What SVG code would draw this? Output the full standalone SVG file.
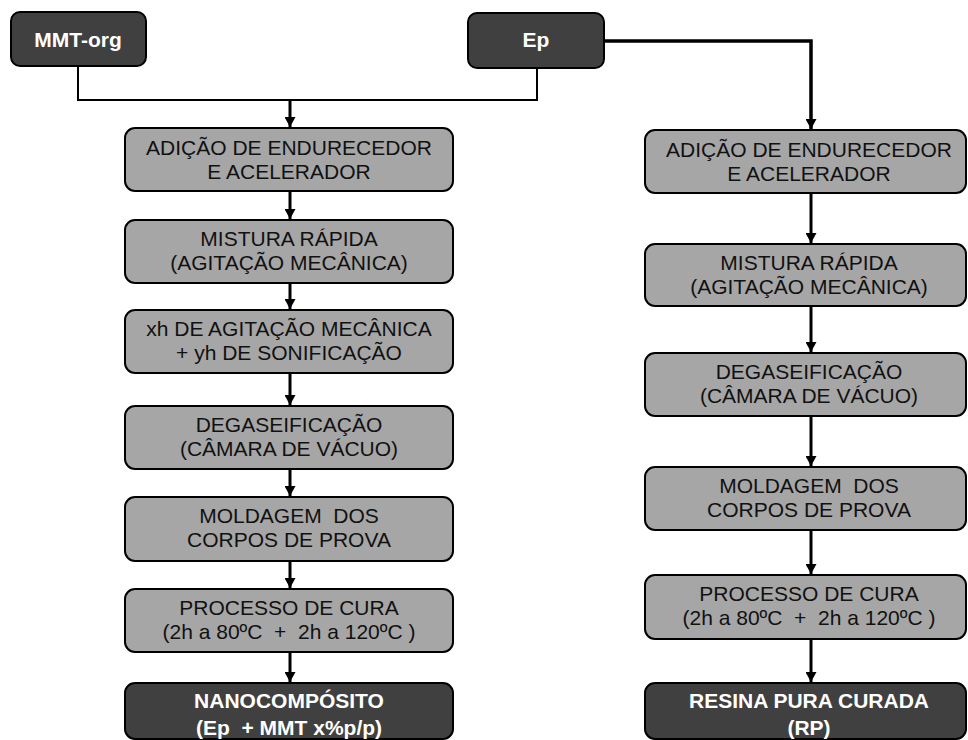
<svg xmlns="http://www.w3.org/2000/svg" width="968" height="740" viewBox="0 0 968 740">
  <defs>
    <marker id="head" markerUnits="userSpaceOnUse" markerWidth="12" markerHeight="11" refX="10" refY="5.5" orient="auto">
      <path d="M0,0 L10,5.5 L0,11 Z" fill="#000"/>
    </marker>
    <style>
      .step rect { fill: #a6a6a6; stroke: #000; stroke-width: 2; }
      .term rect { fill: #404040; stroke: #000; stroke-width: 2; }
      .step text { font-family: "Liberation Sans", Arial, sans-serif; font-size: 21px; fill: #111; text-anchor: middle; white-space: pre; }
      .term text { font-family: "Liberation Sans", Arial, sans-serif; font-size: 21px; font-weight: bold; fill: #fff; text-anchor: middle; white-space: pre; }
      .link { fill: none; stroke: #000; stroke-width: 2; }
      .flow { fill: none; stroke: #000; stroke-width: 3; marker-end: url(#head); }
    </style>
  </defs>

  <rect width="968" height="740" fill="#fff"/>

  <!-- connectors -->
  <g id="connectors">
    <path class="link" d="M78,66 V100 H537 V68"/>
    <path class="flow" d="M290,100 V127"/>
    <path class="flow" style="stroke-width:3.5" d="M604,41 H811 V129"/>
    <!-- left column -->
    <path class="flow" d="M290,191 V219"/>
    <path class="flow" d="M290,283 V309"/>
    <path class="flow" d="M290,373 V405"/>
    <path class="flow" d="M290,469 V496"/>
    <path class="flow" d="M290,561 V588"/>
    <path class="flow" d="M290,652 V682"/>
    <!-- right column -->
    <path class="flow" d="M811,193 V243"/>
    <path class="flow" d="M811,306 V352"/>
    <path class="flow" d="M811,416 V466"/>
    <path class="flow" d="M811,530 V574"/>
    <path class="flow" d="M811,639 V682"/>
  </g>

  <!-- sources -->
  <g id="mmt-org" class="term">
    <rect x="11" y="12" width="135" height="54" rx="9"/>
    <text x="78" y="47">MMT-org</text>
  </g>
  <g id="ep" class="term">
    <rect x="468" y="13" width="136" height="55" rx="9"/>
    <text x="536" y="47">Ep</text>
  </g>

  <!-- nanocomposite route -->
  <g id="l-adicao" class="step">
    <rect x="125" y="128" width="328" height="63" rx="10"/>
    <text x="289" y="155">ADIÇÃO DE ENDURECEDOR</text>
    <text x="289" y="179">E ACELERADOR</text>
  </g>
  <g id="l-mistura" class="step">
    <rect x="125" y="220" width="328" height="63" rx="10"/>
    <text x="289" y="246">MISTURA RÁPIDA</text>
    <text x="289" y="270">(AGITAÇÃO MECÂNICA)</text>
  </g>
  <g id="l-sonificacao" class="step">
    <rect x="125" y="310" width="328" height="63" rx="10"/>
    <text x="289" y="336">xh DE AGITAÇÃO MECÂNICA</text>
    <text x="289" y="360">+ yh DE SONIFICAÇÃO</text>
  </g>
  <g id="l-degas" class="step">
    <rect x="125" y="406" width="328" height="63" rx="10"/>
    <text x="289" y="432">DEGASEIFICAÇÃO</text>
    <text x="289" y="456">(CÂMARA DE VÁCUO)</text>
  </g>
  <g id="l-moldagem" class="step">
    <rect x="125" y="497" width="328" height="64" rx="10"/>
    <text x="289" y="523">MOLDAGEM  DOS</text>
    <text x="289" y="547">CORPOS DE PROVA</text>
  </g>
  <g id="l-cura" class="step">
    <rect x="125" y="589" width="328" height="63" rx="10"/>
    <text x="289" y="615">PROCESSO DE CURA</text>
    <text x="289" y="639">(2h a 80ºC  +  2h a 120ºC )</text>
  </g>
  <g id="nanocomposito" class="term">
    <rect x="125" y="683" width="328" height="56" rx="10"/>
    <text x="289" y="708">NANOCOMPÓSITO</text>
    <text x="289" y="735">(Ep  + MMT x%p/p)</text>
  </g>

  <!-- neat resin route -->
  <g id="r-adicao" class="step">
    <rect x="645" y="130" width="321" height="63" rx="10"/>
    <text x="809" y="157">ADIÇÃO DE ENDURECEDOR</text>
    <text x="809" y="181">E ACELERADOR</text>
  </g>
  <g id="r-mistura" class="step">
    <rect x="645" y="244" width="321" height="62" rx="10"/>
    <text x="809" y="270">MISTURA RÁPIDA</text>
    <text x="809" y="294">(AGITAÇÃO MECÂNICA)</text>
  </g>
  <g id="r-degas" class="step">
    <rect x="645" y="353" width="321" height="63" rx="10"/>
    <text x="809" y="379">DEGASEIFICAÇÃO</text>
    <text x="809" y="403">(CÂMARA DE VÁCUO)</text>
  </g>
  <g id="r-moldagem" class="step">
    <rect x="645" y="467" width="321" height="63" rx="10"/>
    <text x="809" y="493">MOLDAGEM  DOS</text>
    <text x="809" y="517">CORPOS DE PROVA</text>
  </g>
  <g id="r-cura" class="step">
    <rect x="645" y="575" width="321" height="64" rx="10"/>
    <text x="809" y="601">PROCESSO DE CURA</text>
    <text x="809" y="625">(2h a 80ºC  +  2h a 120ºC )</text>
  </g>
  <g id="resina-pura" class="term">
    <rect x="645" y="683" width="321" height="56" rx="10"/>
    <text x="809" y="708">RESINA PURA CURADA</text>
    <text x="809" y="735">(RP)</text>
  </g>
</svg>
